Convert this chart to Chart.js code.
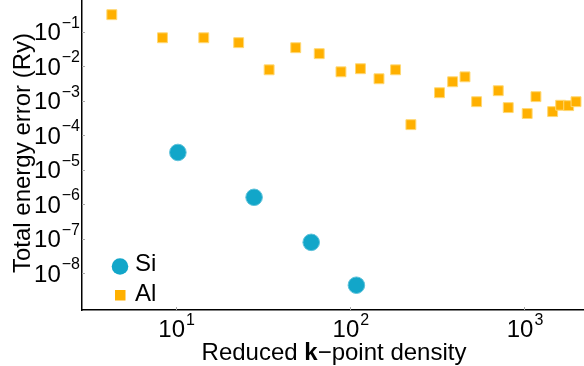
<!DOCTYPE html>
<html>
<head>
<meta charset="utf-8">
<script src="https://cdn.jsdelivr.net/npm/chart.js@4"></script>
<style>
  html, body { margin: 0; padding: 0; background: #fff; }
  #wrap { width: 584px; height: 366px; }
</style>
</head>
<body>
<div id="wrap"><canvas id="errChart"></canvas></div>
<script>
// reduced k-point density vs total energy error (Ry)
const siDensity = [10.3, 28.2, 60, 109];
const siError = [3.2e-5, 1.6e-6, 7.9e-8, 4.5e-9];

const alDensity = [4.3, 8.4, 14.5, 23.0, 34.4, 48.9, 66.7, 88.9, 115, 147, 183, 224,
                   327, 389, 458, 534, 711, 811, 1042, 1170, 1459, 1622, 1803, 1987];
const alError = [0.318, 0.068, 0.068, 0.049, 0.0080, 0.035, 0.0235, 0.0070, 0.0086, 0.0044, 0.0080, 2.05e-4,
                 1.73e-3, 3.6e-3, 5.0e-3, 9.5e-4, 1.98e-3, 6.4e-4, 4.3e-4, 1.33e-3, 4.9e-4, 7.5e-4, 7.3e-4, 9.5e-4];

const xDecades = [1, 2, 3];
const yDecades = [-1, -2, -3, -4, -5, -6, -7, -8];

const FONT = "Liberation Sans, Arial, Helvetica, sans-serif";
const SI_COLOR = "#12a6c9";
const AL_COLOR = "#ffb000";

function toPoints(xs, ys) {
    return xs.map((x, i) => ({ x: x, y: ys[i] }));
}

const supMinus = "\u2212";

function drawPower(ctx, exp, x, y, align) {
    // "10" with raised exponent; (x, y) = anchor / baseline of "10"
    const base = "10";
    const sup = exp < 0 ? supMinus + Math.abs(exp) : String(exp);
    ctx.font = "24px " + FONT;
    const wb = ctx.measureText(base).width;
    ctx.font = "16px " + FONT;
    const ws = ctx.measureText(sup).width + 1;
    let left = x;
    if (align === "right") left = x - wb - ws;
    if (align === "center") left = x - (wb + ws) / 2;
    ctx.textAlign = "left";
    ctx.textBaseline = "alphabetic";
    ctx.font = "24px " + FONT;
    ctx.fillText(base, left, y);
    ctx.font = "16px " + FONT;
    ctx.fillText(sup, left + wb + 1, y - 12.5);
}

const textPlugin = {
    id: "textPlugin",
    afterDraw(chart) {
        const ctx = chart.ctx;
        const xs = chart.scales.x;
        const ys = chart.scales.y;
        const area = chart.chartArea;
        ctx.save();
        ctx.fillStyle = "#000";

        // little inward ticks
        ctx.strokeStyle = "#aaa";
        ctx.lineWidth = 1;
        xDecades.forEach(d => {
            const px = Math.round(xs.getPixelForValue(Math.pow(10, d))) + 0.5;
            ctx.beginPath();
            ctx.moveTo(px, area.bottom);
            ctx.lineTo(px, area.bottom - 3);
            ctx.stroke();
        });
        yDecades.forEach(d => {
            const py = Math.round(ys.getPixelForValue(Math.pow(10, d))) + 0.5;
            ctx.beginPath();
            ctx.moveTo(area.left, py);
            ctx.lineTo(area.left + 3, py);
            ctx.stroke();
        });

        // tick labels
        yDecades.forEach(d => {
            const py = ys.getPixelForValue(Math.pow(10, d));
            drawPower(ctx, d, area.left - 2, py + 8.5, "right");
        });
        xDecades.forEach(d => {
            const px = xs.getPixelForValue(Math.pow(10, d));
            drawPower(ctx, d, px + 1, area.bottom + 27, "center");
        });

        // x title with bold k
        const parts = [["Reduced ", ""], ["k", "bold "], [supMinus + "point density", ""]];
        let total = 0;
        parts.forEach(p => { ctx.font = p[1] + "24px " + FONT; total += ctx.measureText(p[0]).width; });
        let tx = 334 - total / 2;
        parts.forEach(p => {
            ctx.font = p[1] + "24px " + FONT;
            ctx.fillText(p[0], tx, 360);
            tx += ctx.measureText(p[0]).width;
        });

        // y title
        ctx.save();
        ctx.translate(30, 153);
        ctx.rotate(-Math.PI / 2);
        ctx.font = "24px " + FONT;
        ctx.textAlign = "center";
        ctx.fillText("Total energy error (Ry)", 0, 0);
        ctx.restore();

        // legend
        ctx.fillStyle = SI_COLOR;
        ctx.beginPath();
        ctx.arc(120, 266.5, 8.3, 0, Math.PI * 2);
        ctx.fill();
        ctx.fillStyle = AL_COLOR;
        ctx.fillRect(115, 290, 10.5, 10.5);
        ctx.fillStyle = "#000";
        ctx.font = "24px " + FONT;
        ctx.textAlign = "left";
        ctx.fillText("Si", 135, 271);
        ctx.fillText("Al", 135, 301);
        ctx.restore();
    }
};

new Chart(document.getElementById("errChart"), {
    type: "scatter",
    data: {
        datasets: [
            {
                label: "Si",
                data: toPoints(siDensity, siError),
                pointStyle: "circle",
                pointRadius: 8.3,
                pointHoverRadius: 8.3,
                backgroundColor: SI_COLOR,
                borderColor: "#5fc2da",
                borderWidth: 1,
            },
            {
                label: "Al",
                data: toPoints(alDensity, alError),
                pointStyle: "rect",
                pointRadius: 7,
                pointHoverRadius: 7,
                backgroundColor: AL_COLOR,
                borderColor: "#ffd873",
                borderWidth: 1,
            },
        ],
    },
    options: {
        responsive: true,
        maintainAspectRatio: false,
        animation: false,
        layout: { autoPadding: false, padding: { left: 82, right: 0, top: 0, bottom: 56 } },
        plugins: { legend: { display: false }, tooltip: { enabled: false } },
        scales: {
            x: {
                type: "logarithmic",
                min: 2.9,
                max: 2208,
                ticks: { display: false },
                grid: { display: true, drawOnChartArea: false, drawTicks: false, color: "transparent" },
                border: { display: true, color: "#000", width: 1.5 },
            },
            y: {
                type: "logarithmic",
                min: 8.6e-10,
                max: 0.848,
                ticks: { display: false },
                grid: { display: true, drawOnChartArea: false, drawTicks: false, color: "transparent" },
                border: { display: true, color: "#000", width: 1.5 },
            },
        },
    },
    plugins: [textPlugin],
});
</script>
</body>
</html>
